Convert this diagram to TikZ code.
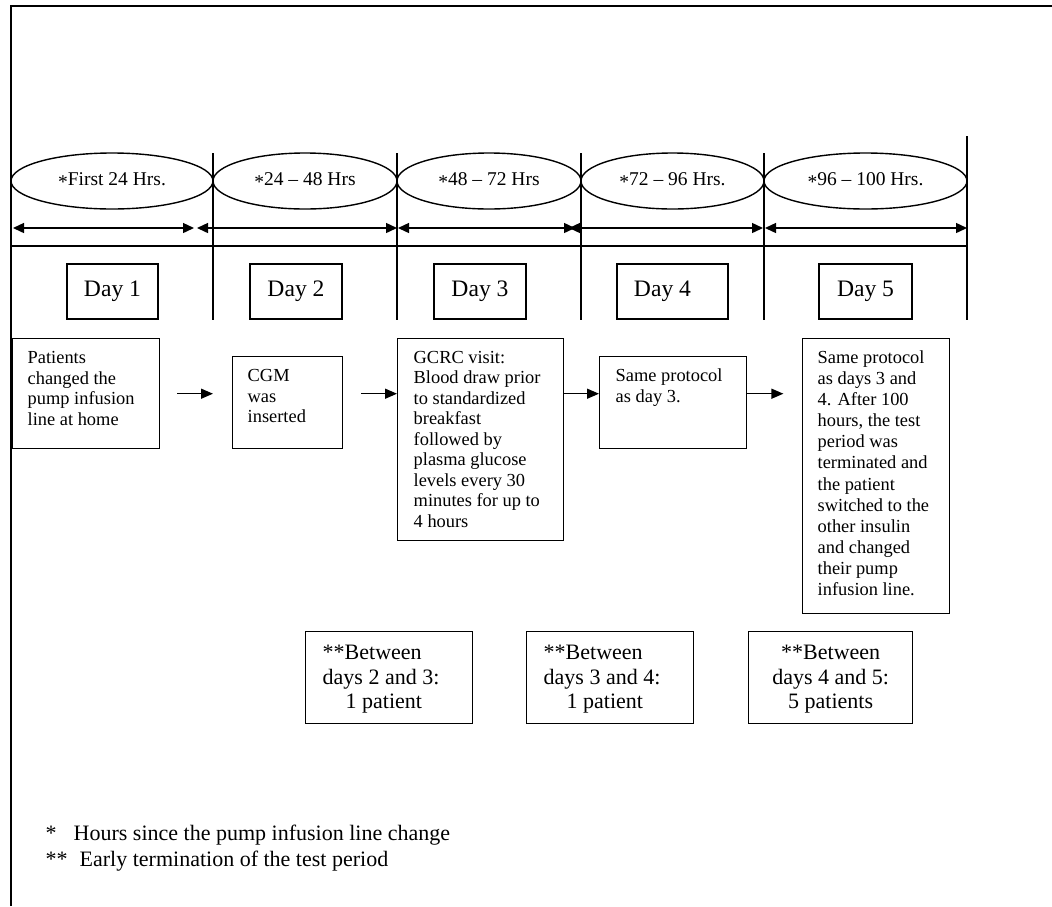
\documentclass[tikz,border=0pt]{standalone}
\usepackage{fontspec}
\setmainfont{Liberation Serif}
\usetikzlibrary{arrows.meta,calc,positioning,shapes.geometric}
\newcommand{\hstar}{\raisebox{-3pt}{*}}
\newcommand{\boxtext}[3]{\parbox[t][#2][t]{#1}{\strut#3}}
\tikzset{
	period/.style={draw, ellipse, line width=1.4pt, inner sep=0pt, outer sep=0pt,
		minimum height=56pt, font=\fontsize{19.5}{23}\selectfont},
	daybox/.style={draw, line width=1.4pt, minimum height=55pt, inner sep=0pt,
		font=\fontsize{23.6}{28}\selectfont},
	stepbox/.style={draw, line width=1.4pt, anchor=north west, inner xsep=15pt,
		inner ysep=10pt, font=\fontsize{18.4}{20.8}\selectfont},
	dropbox/.style={draw, line width=1.4pt, anchor=north west, inner xsep=17pt,
		inner ysep=11pt, font=\fontsize{22}{24.5}\selectfont},
	note/.style={anchor=base west, inner sep=0pt, font=\fontsize{22}{26}\selectfont},
	span/.style={{Triangle[length=11pt,width=10pt]}-{Triangle[length=11pt,width=10pt]},
		line width=1.4pt},
	flow/.style={-{Triangle[length=12pt,width=10pt]}, line width=1.4pt}
}

\begin{document}
\begin{tikzpicture}[x=1pt, y=-1pt, line width=1.4pt]
   \useasboundingbox (0,0) rectangle (1052,906);
   \draw[line width=2pt] (11,906) -- (11,6) -- (1052,6);
   % time periods
   \node[period, minimum width=202pt] (e1) at (112,181) {\hstar First 24 Hrs.};
   \node[period, minimum width=184pt, right=0pt of e1] (e2) {\hstar 24 -- 48 Hrs};
   \node[period, minimum width=184pt, right=0pt of e2] (e3) {\hstar 48 -- 72 Hrs};
   \node[period, minimum width=183pt, right=0pt of e3] (e4) {\hstar 72 -- 96 Hrs.};
   \node[period, minimum width=203pt, right=0pt of e4] (e5) {\hstar 96 -- 100 Hrs.};
   \coordinate (top) at (0,153);
   \coordinate (rtop) at (0,136);
   \coordinate (foot) at (0,320);
   \coordinate (rule) at (11,246);
   \foreach \n in {e1,e2,e3,e4}
      \draw (\n.east |- top) -- (\n.east |- foot);
   \draw (e5.east |- rtop) -- (e5.east |- foot);
   \draw (rule) -- (e5.east |- rule);
   \foreach \a/\b [count=\i] in {13/194,197/397,398/575,569/763,765/967} {
      \coordinate (s\i a) at (\a,228);
      \coordinate (s\i b) at (\b,228);
      \draw[span] (s\i a) -- (s\i b);
   }
   % days
   \node[daybox, minimum width=91pt] (d1) at (112.5,291.5) {Day 1};
   \node[daybox, minimum width=92pt] (d2) at (296,291.5) {Day 2};
   \node[daybox, minimum width=92pt] (d3) at (480,291.5) {Day 3};
   \node[daybox, minimum width=111pt] (d4) at (672.5,291.5) {Day 4\hspace*{20pt}};
   \node[daybox, minimum width=93pt] (d5) at (865.5,291.5) {Day 5};
   % what happened
   \node[stepbox] (b1) at (12,338)
      {\boxtext{117pt}{90pt}{Patients\\changed the\\pump infusion\\line at home}};
   \node[stepbox] (b2) at (232,356)
      {\boxtext{80pt}{72pt}{CGM\\was\\inserted}};
   \node[stepbox, inner xsep=16pt, font=\fontsize{18.4}{20.5}\selectfont] (b3) at (397,338)
      {\boxtext{134pt}{182pt}{GCRC visit:\\Blood draw prior\\to standardized\\breakfast\\followed by\\plasma glucose\\levels every 30\\minutes for up to\\4 hours}};
   \node[stepbox, inner xsep=16pt] (b4) at (599,356)
      {\boxtext{115pt}{72pt}{Same protocol\\as day 3.}};
   \node[stepbox, font=\fontsize{18.4}{21.1}\selectfont] (b5) at (802,338)
      {\boxtext{117pt}{255pt}{Same protocol\\as days 3 and\\4. After 100\\hours, the test\\period was\\terminated and\\the patient\\switched to the\\other insulin\\and changed\\their pump\\infusion line.}};
   \draw[flow] ($(b1.east)+(17,0)$) -- ($(b1.east -| b2.west)+(-19,0)$);
   \draw[flow] ($(b1.east -| b2.east)+(18,0)$) -- (b1.east -| b3.west);
   \draw[flow] (b1.east -| b3.east) -- (b1.east -| b4.west);
   \draw[flow] (b1.east -| b4.east) -- ($(b1.east -| b4.east)+(36,0)$);
   % early terminations
   \node[dropbox] (n1) at (305,631)
      {\boxtext{133pt}{70pt}{**Between\\days 2 and 3:\\\hspace*{23pt}1 patient}};
   \node[dropbox] (n2) at (526,631)
      {\boxtext{133pt}{70pt}{**Between\\days 3 and 4:\\\hspace*{23pt}1 patient}};
   \node[dropbox] (n3) at (748,631)
      {\boxtext{130pt}{70pt}{\centering **Between\\days 4 and 5:\\5 patients}};
   % footnotes
   \node[note] (k1) at (45,840) {\makebox[28pt][l]{*}Hours since the pump infusion line change};
   \node[note] (k2) at (45,866) {\makebox[34pt][l]{**}Early termination of the test period};
\end{tikzpicture}
\end{document}
